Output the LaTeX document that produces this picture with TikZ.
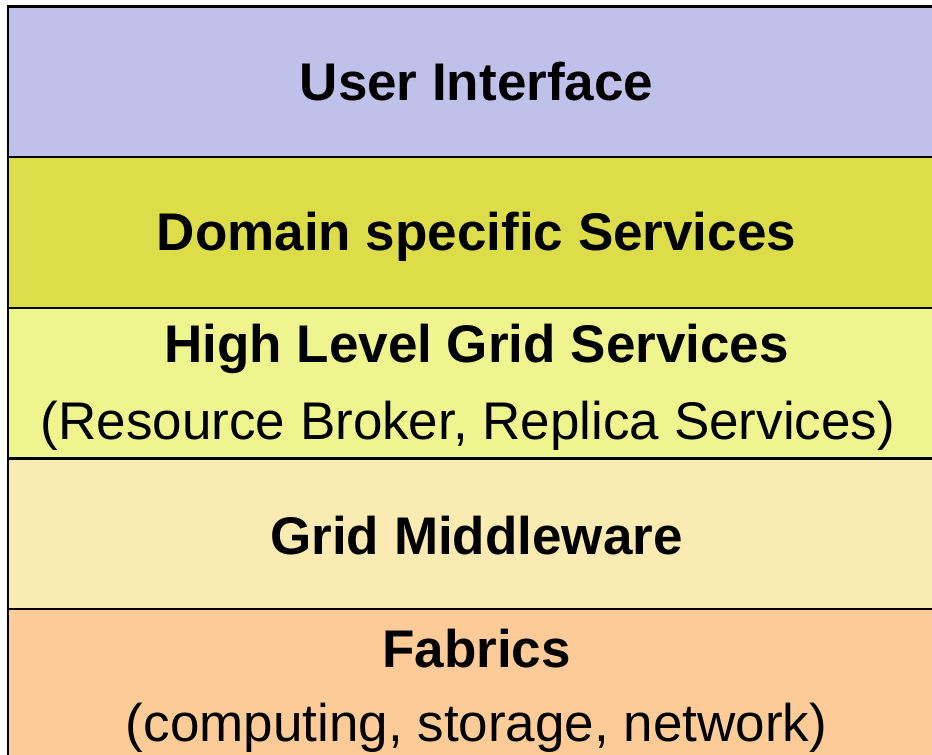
\documentclass[tikz,border=0pt]{standalone}
\usepackage{fontspec}
\setmainfont{Liberation Sans}
\definecolor{uicol}{RGB}{192,192,234}
\definecolor{domcol}{RGB}{221,221,74}
\definecolor{hlcol}{RGB}{238,245,142}
\definecolor{mwcol}{RGB}{250,235,178}
\definecolor{fabcol}{RGB}{253,203,152}
\begin{document}
\begin{tikzpicture}[x=1pt,y=1pt,
  layer/.style={draw=black,line width=2.4pt,minimum width=940pt,minimum height=150.6pt,anchor=north west,inner sep=0pt},
  title/.style={font=\fontsize{53}{60}\selectfont\bfseries,anchor=base},
  sub/.style={font=\fontsize{53}{60}\selectfont,anchor=base}]
\useasboundingbox (0,0) rectangle (932,755);
\begin{scope}
\clip (0,0) rectangle (932,755);
\node[layer,fill=fabcol] (fab) at (7,755-607.9) {};
\node[layer,fill=mwcol] (mw) at (7,755-457.3) {};
\node[layer,fill=hlcol] (hl) at (7,755-306.7) {};
\node[layer,fill=domcol] (dom) at (7,755-156.1) {};
\node[layer,fill=uicol] (ui) at (7,755-5.5) {};
\end{scope}
\node[title] (tui) at (476.5,755-101) {User Interface};
\node[title] (tdom) at (476.5,755-251) {Domain specific Services};
\node[title] (thl) at (476.5,755-363) {High Level Grid Services};
\node[sub] (shl) at (468,755-440) {(Resource Broker, Replica Services)};
\node[title] (tmw) at (476.5,755-555) {Grid Middleware};
\node[title] (tfab) at (476.5,755-668) {Fabrics};
\node[sub] (sfab) at (476.5,755-742) {(computing, storage, network)};
\end{tikzpicture}
\end{document}
